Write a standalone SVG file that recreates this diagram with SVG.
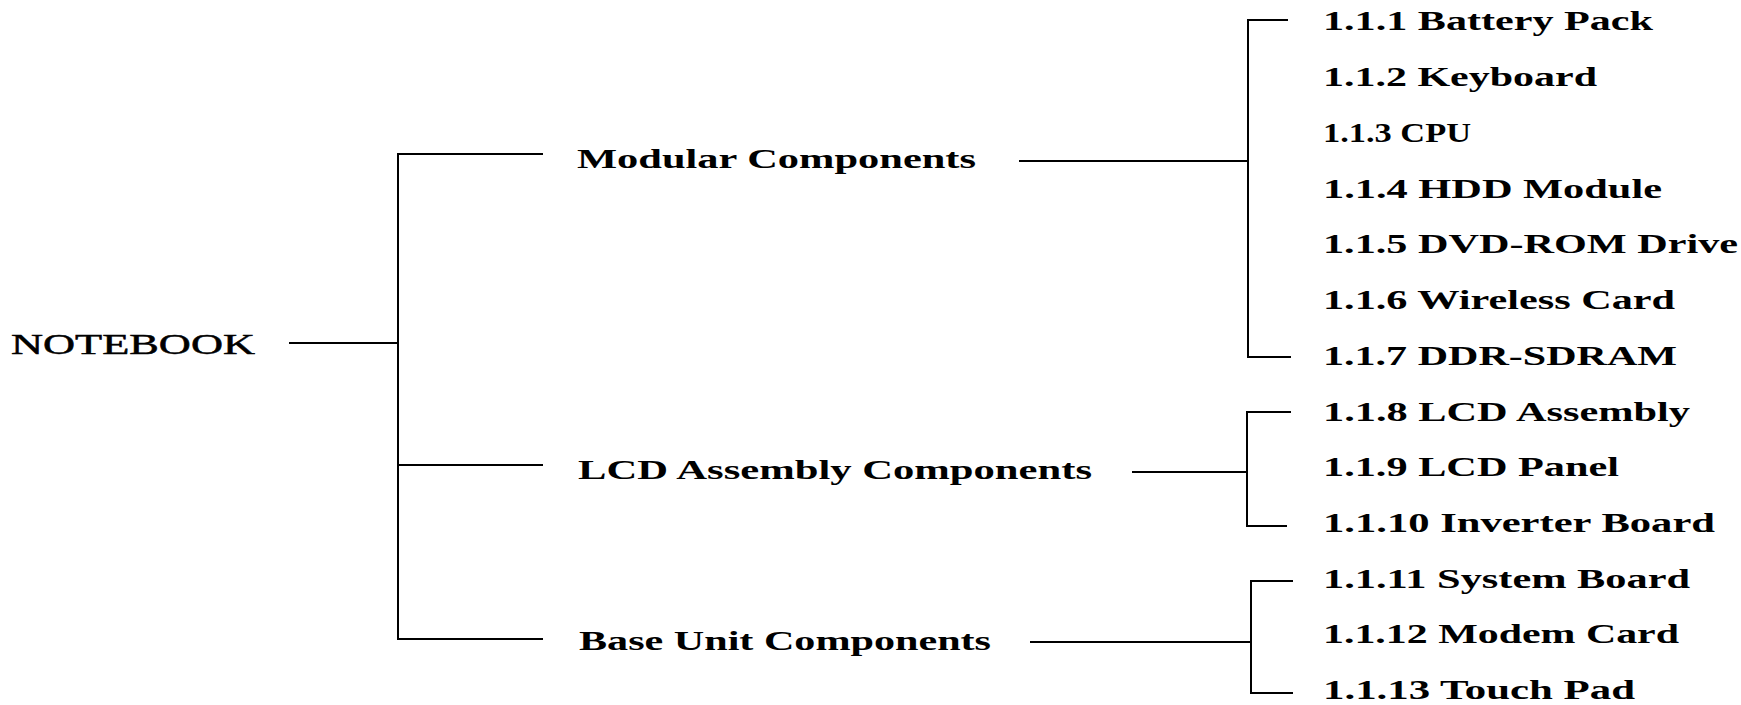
<svg xmlns="http://www.w3.org/2000/svg" width="1741" height="705" viewBox="0 0 1741 705">
<style>
.ln{stroke:#000;stroke-width:2;fill:none}
.t{font-family:"Liberation Serif","Times New Roman",serif;fill:#000}
.root{font-size:29px;font-weight:normal;stroke:#000;stroke-width:0.5}
.mid{font-size:27px;font-weight:bold}
.item{font-size:28px;font-weight:bold}
</style>
<rect width="1741" height="705" fill="#fff"/>
<g id="connectors">
<path class="ln" d="M289 343H398"/>
<path class="ln" d="M543 154H398V639H543"/>
<path class="ln" d="M398 465H543"/>
<path class="ln" d="M1019 161H1248"/>
<path class="ln" d="M1288 20H1248V357H1291"/>
<path class="ln" d="M1132 472H1247"/>
<path class="ln" d="M1291 412H1247V526H1287"/>
<path class="ln" d="M1030 642H1251"/>
<path class="ln" d="M1293 581H1251V693H1293"/>
</g>
<g id="notebook"><text class="t root" x="11" y="354" textLength="244" lengthAdjust="spacingAndGlyphs">NOTEBOOK</text></g>
<g id="modular"><text class="t mid" x="577" y="168" textLength="399" lengthAdjust="spacingAndGlyphs">Modular Components</text></g>
<g id="lcd"><text class="t mid" x="578" y="479" textLength="514" lengthAdjust="spacingAndGlyphs">LCD Assembly Components</text></g>
<g id="base"><text class="t mid" x="579" y="650" textLength="412" lengthAdjust="spacingAndGlyphs">Base Unit Components</text></g>
<g id="i1"><text class="t item" x="1323" y="30" textLength="330" lengthAdjust="spacingAndGlyphs">1.1.1 Battery Pack</text></g>
<g id="i2"><text class="t item" x="1323" y="86" textLength="274" lengthAdjust="spacingAndGlyphs">1.1.2 Keyboard</text></g>
<g id="i3"><text class="t item" x="1323" y="142" textLength="148" lengthAdjust="spacingAndGlyphs">1.1.3 CPU</text></g>
<g id="i4"><text class="t item" x="1323" y="198" textLength="339" lengthAdjust="spacingAndGlyphs">1.1.4 HDD Module</text></g>
<g id="i5"><text class="t item" x="1323" y="253" textLength="415" lengthAdjust="spacingAndGlyphs">1.1.5 DVD-ROM Drive</text></g>
<g id="i6"><text class="t item" x="1323" y="309" textLength="352" lengthAdjust="spacingAndGlyphs">1.1.6 Wireless Card</text></g>
<g id="i7"><text class="t item" x="1323" y="365" textLength="354" lengthAdjust="spacingAndGlyphs">1.1.7 DDR-SDRAM</text></g>
<g id="i8"><text class="t item" x="1323" y="421" textLength="367" lengthAdjust="spacingAndGlyphs">1.1.8 LCD Assembly</text></g>
<g id="i9"><text class="t item" x="1323" y="476" textLength="296" lengthAdjust="spacingAndGlyphs">1.1.9 LCD Panel</text></g>
<g id="i10"><text class="t item" x="1323" y="532" textLength="392" lengthAdjust="spacingAndGlyphs">1.1.10 Inverter Board</text></g>
<g id="i11"><text class="t item" x="1323" y="588" textLength="367" lengthAdjust="spacingAndGlyphs">1.1.11 System Board</text></g>
<g id="i12"><text class="t item" x="1323" y="643" textLength="356" lengthAdjust="spacingAndGlyphs">1.1.12 Modem Card</text></g>
<g id="i13"><text class="t item" x="1323" y="699" textLength="312" lengthAdjust="spacingAndGlyphs">1.1.13 Touch Pad</text></g>
</svg>
